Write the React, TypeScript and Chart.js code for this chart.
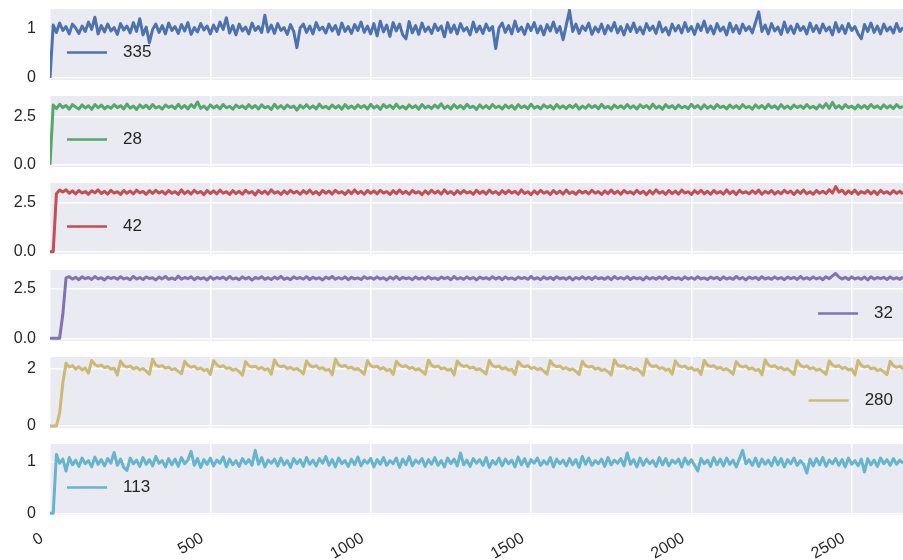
import React, { useEffect, useRef } from 'react';
import { Chart, registerables } from 'chart.js';

Chart.register(...registerables);

// ---------- data ----------
const SAMPLE_STEP = 10; // x distance between stored samples
const X_MAX = 2660;
const X_TICKS = [0, 500, 1000, 1500, 2000, 2500];
const X_TICK_LABELS = ['0', '500', '1000', '1500', '2000', '2500'];

const SERIES_NAMES = ['335', '28', '42', '32', '280', '113'];

const S335 = [
  0, 1.08, 0.93, 1.12, 0.97, 1.05, 0.9, 1.1, 1.02, 0.91,
  1.06, 0.95, 1.14, 0.99, 1.24, 0.9, 1.07, 0.94, 1.1, 0.96,
  1.03, 0.89, 1.11, 0.98, 1.06, 0.92, 1.13, 0.95, 1.21, 0.88,
  1.04, 0.72, 0.99, 1.1, 0.93, 1.07, 0.9, 1.12, 0.97, 1.05,
  0.91, 1.09, 0.96, 1.13, 0.89, 1.03, 0.94, 1.11, 0.98, 1.06,
  0.9, 1.08, 0.95, 1.14, 0.99, 1.23, 0.92, 1.07, 0.88, 1.1,
  0.96, 1.04, 0.9, 1.12, 0.97, 1.05, 0.93, 1.28, 0.94, 1.08,
  0.91, 1.11, 0.97, 1.03, 0.89, 1.09, 0.95, 0.62, 1.02, 1.1,
  0.93, 1.06, 0.9, 1.13, 0.98, 1.04, 0.92, 1.1, 0.96, 1.07,
  0.89, 1.12, 0.95, 1.05, 0.91, 1.09, 0.97, 1.14, 0.93, 1.06,
  0.9, 1.11, 0.86, 1.16, 0.94, 1.08, 0.85, 1.13, 0.96, 1.1,
  0.88, 0.8, 1.15, 0.92, 1.07, 0.89, 1.12, 0.95, 1.04, 0.91,
  1.1, 0.97, 1.06, 0.84, 1.13, 0.93, 1.08, 0.9, 1.11, 0.96,
  1.03, 0.88, 1.14, 0.94, 1.06, 0.91, 1.1, 0.97, 1.05, 0.6,
  1.02, 1.12, 0.93, 1.07, 0.9, 1.16, 0.95, 1.04, 0.89, 1.1,
  0.97, 1.13, 0.92, 1.06, 0.88, 1.09, 0.96, 1.14, 0.93, 1.05,
  0.78, 1.08, 1.38, 0.95, 1.1, 0.91, 1.06, 0.97, 1.12, 0.89,
  1.04, 0.94, 1.1, 0.9, 1.07, 0.96, 1.13, 0.92, 1.05, 0.88,
  1.09, 0.95, 1.12, 0.93, 1.04, 0.9, 1.11, 0.97, 1.06, 0.91,
  1.14, 0.94, 1.03, 0.88, 1.1, 0.96, 1.07, 0.92, 1.13, 0.95,
  1.05, 0.89, 1.1, 0.97, 1.16, 0.93, 1.06, 0.9, 1.11, 0.96,
  1.04, 0.88, 1.12, 0.94, 1.07, 0.91, 1.1, 0.97, 1.05, 0.92,
  1.13, 1.35, 0.95, 1.08, 0.9, 1.11, 0.96, 1.04, 0.89, 1.14,
  0.93, 1.06, 0.91, 1.1, 0.97, 1.05, 0.9, 1.12, 0.95, 1.07,
  0.92, 1.1, 0.96, 1.04, 0.88, 1.13, 0.94, 1.07, 0.91, 1.11,
  0.97, 1.05, 0.9, 0.8, 1.09, 0.95, 1.12, 0.93, 1.06, 0.9,
  1.1, 0.96, 1.04, 0.92, 1.11, 0.95, 1.03,
];

const S28 = [
  0, 3.1, 2.92, 3.14, 2.97, 3.08, 2.89, 3.12, 3.0, 2.9,
  3.11, 2.95, 3.06, 2.88, 3.13, 2.96, 3.1, 2.91, 3.04, 2.93,
  3.12, 2.97, 3.07, 2.9, 3.15, 2.94, 3.05, 2.88, 3.11, 2.96,
  3.09, 2.91, 3.13, 2.95, 3.03, 2.89, 3.1, 2.98, 3.06, 2.92,
  3.14, 2.94, 3.08, 2.9, 3.12, 2.97, 3.26, 2.93, 3.05, 2.88,
  3.11, 2.95, 3.07, 2.91, 3.13, 2.96, 3.04, 2.89, 3.1, 2.97,
  3.06, 2.92, 3.12, 2.95, 3.08, 2.9, 3.11, 2.96, 3.03, 2.87,
  3.14, 2.94, 3.07, 2.91, 3.1, 2.97, 3.05, 2.84, 3.09, 2.95,
  3.12, 2.93, 3.06, 2.9, 3.15, 2.96, 3.04, 2.91, 3.1, 2.95,
  3.07, 2.89, 3.13, 2.94, 3.05, 2.92, 3.11, 2.97, 3.08, 2.9,
  3.14, 2.95, 3.06, 2.88, 3.12, 2.97, 3.09, 2.92, 3.15, 2.94,
  3.04, 2.9, 3.11, 2.96, 3.07, 2.89, 3.13, 2.95, 3.05, 2.92,
  3.1, 2.96, 3.17, 2.93, 3.06, 2.9, 3.12, 2.95, 3.08, 2.91,
  3.14, 2.97, 3.04, 2.88, 3.11, 2.94, 3.07, 2.92, 3.13, 2.96,
  3.05, 2.9, 3.1, 2.95, 3.08, 2.89, 3.12, 2.96, 3.06, 2.92,
  3.15, 2.94, 3.04, 2.91, 3.11, 2.97, 3.07, 2.9, 3.13, 2.95,
  3.06, 2.92, 3.09, 2.96, 3.12, 2.89, 3.05, 2.94, 3.11, 2.97,
  3.08, 2.91, 3.14, 2.95, 3.04, 2.9, 3.1, 2.96, 3.07, 2.93,
  3.13, 2.95, 3.06, 2.9, 3.11, 2.97, 3.08, 2.92, 3.15, 2.94,
  3.05, 2.89, 3.12, 2.96, 3.07, 2.91, 3.1, 2.95, 3.04, 2.92,
  3.14, 2.96, 3.08, 2.9, 3.11, 2.94, 3.06, 2.91, 3.13, 2.97,
  3.05, 2.9, 3.1, 2.95, 3.07, 2.92, 3.12, 2.96, 3.04, 2.89,
  3.11, 2.95, 3.08, 2.92, 3.14, 2.96, 3.06, 2.9, 3.12, 2.94,
  3.05, 2.91, 3.1, 2.97, 3.07, 2.93, 3.13, 2.95, 3.04, 2.9,
  3.11, 2.96, 3.18, 2.93, 3.24, 2.95, 3.07, 2.91, 3.12, 2.97,
  3.05, 2.9, 3.1, 2.94, 3.08, 2.92, 3.13, 2.96, 3.06, 2.91,
  3.11, 2.95, 3.07, 2.92, 3.12, 2.96, 3.04,
];

const S42 = [
  0, 0, 2.94, 3.12, 3.02, 3.14, 2.96, 3.08, 2.93, 3.1,
  2.97, 3.05, 2.91, 3.09, 2.98, 3.13, 2.95, 3.06, 2.92, 3.11,
  2.97, 3.04, 2.9, 3.1, 2.96, 3.07, 2.93, 3.12, 2.98, 3.05,
  2.91, 3.09, 2.95, 3.11, 2.97, 3.06, 2.92, 3.1, 2.96, 3.04,
  2.9, 3.13, 2.94, 3.07, 2.92, 3.11, 2.97, 3.05, 2.89, 3.1,
  2.95, 3.08, 2.93, 3.12, 2.96, 3.04, 2.9, 3.09, 2.94, 3.06,
  2.91, 3.11, 2.97, 3.05, 2.88, 3.1, 2.95, 3.07, 2.92, 3.13,
  2.96, 3.04, 2.9, 3.08, 2.94, 3.11, 2.97, 3.06, 2.91, 3.09,
  2.95, 3.12, 2.93, 3.05, 2.89, 3.1, 2.96, 3.07, 2.92, 3.11,
  2.97, 3.04, 2.9, 3.09, 2.94, 3.13, 2.95, 3.06, 2.91, 3.1,
  2.96, 3.08, 2.93, 3.11, 2.97, 3.05, 2.9, 3.09, 2.94, 3.12,
  2.95, 3.06, 2.91, 3.1, 2.97, 3.04, 2.89, 3.08, 2.93, 3.11,
  2.96, 3.07, 2.92, 3.13, 2.95, 3.05, 2.9, 3.09, 2.94, 3.1,
  2.97, 3.04, 2.91, 3.11, 2.95, 3.07, 2.92, 3.12, 2.96, 3.05,
  2.9, 3.09, 2.94, 3.1, 2.97, 3.06, 2.91, 3.13, 2.95, 3.04,
  2.89, 3.08, 2.93, 3.11, 2.96, 3.05, 2.9, 3.1, 2.94, 3.07,
  2.92, 3.12, 2.95, 3.04, 2.91, 3.09, 2.97, 3.06, 2.93, 3.11,
  2.96, 3.05, 2.9, 3.08, 2.94, 3.12, 2.95, 3.07, 2.91, 3.1,
  2.97, 3.04, 2.92, 3.11, 2.95, 3.06, 2.89, 3.09, 2.93, 3.13,
  2.96, 3.05, 2.91, 3.1, 2.94, 3.07, 2.92, 3.12, 2.97, 3.04,
  2.9, 3.09, 2.95, 3.11, 2.93, 3.06, 2.91, 3.1, 2.96, 3.05,
  2.92, 3.13, 2.94, 3.07, 2.9, 3.11, 2.97, 3.04, 2.93, 3.09,
  2.95, 3.12, 2.91, 3.06, 2.96, 3.1, 2.92, 3.05, 2.94, 3.11,
  2.97, 3.07, 2.9, 3.09, 2.95, 3.12, 2.93, 3.04, 2.91, 3.1,
  2.96, 3.06, 2.94, 3.14, 2.97, 3.3, 3.02, 3.11, 2.92, 3.08,
  2.95, 3.12, 2.91, 3.05, 2.96, 3.1, 2.93, 3.07, 2.9, 3.11,
  2.96, 3.04, 2.92, 3.09, 2.95, 3.06, 2.93,
];

const S32 = [
  0, 0, 0, 0, 1.2, 3.02, 3.08, 2.96, 3.05, 2.93,
  3.07, 2.98, 3.04, 2.94, 3.09, 2.97, 3.03, 2.92, 3.06, 2.99,
  3.05, 2.95, 3.08, 2.97, 3.02, 2.93, 3.1, 2.96, 3.04, 2.94,
  3.07, 2.99, 3.03, 2.92, 3.06, 2.97, 3.09, 2.95, 3.02, 2.94,
  3.11, 2.96, 3.04, 2.98, 3.07, 2.93, 3.05, 2.97, 3.03, 2.92,
  3.08, 2.95, 3.04, 2.98, 3.06, 2.94, 3.09, 2.96, 3.02, 2.93,
  3.07, 2.97, 3.05, 2.91, 3.04, 2.98, 3.08, 2.95, 3.03, 2.94,
  3.06, 2.97, 3.1, 2.95, 3.02, 2.93, 3.07, 2.98, 3.04, 2.96,
  3.08, 2.94, 3.05, 2.97, 3.03, 2.92, 3.06, 2.98, 3.09, 2.95,
  3.04, 2.96, 3.07, 2.93, 3.05, 2.97, 3.02, 2.94, 3.08, 2.98,
  3.04, 2.95, 3.07, 2.97, 3.03, 2.92, 3.06, 2.96, 3.09, 2.94,
  3.05, 2.98, 3.03, 2.93, 3.07, 2.96, 3.04, 2.95, 3.08, 2.97,
  3.02, 2.94, 3.06, 2.98, 3.05, 2.93, 3.09, 2.96, 3.03, 2.95,
  3.07, 2.97, 3.04, 2.92, 3.06, 2.98, 3.03, 2.95, 3.08, 2.96,
  3.05, 2.93, 3.07, 2.97, 3.02, 2.94, 3.06, 2.98, 3.04, 2.95,
  3.09, 2.96, 3.03, 2.93, 3.07, 2.97, 3.05, 2.94, 3.08, 2.98,
  3.03, 2.95, 3.06, 2.92, 3.04, 2.97, 3.08, 2.96, 3.05, 2.94,
  3.07, 2.98, 3.03, 2.95, 3.06, 2.93, 3.09, 2.97, 3.04, 2.96,
  3.08, 2.94, 3.05, 2.98, 3.03, 2.92, 3.07, 2.96, 3.04, 2.95,
  3.06, 2.97, 3.09, 2.94, 3.05, 2.98, 3.03, 2.93, 3.07, 2.96,
  3.04, 2.95, 3.08, 2.97, 3.02, 2.94, 3.06, 2.98, 3.05, 2.93,
  3.07, 2.96, 3.03, 2.95, 3.09, 2.97, 3.04, 2.92, 3.06, 2.98,
  3.05, 2.94, 3.08, 2.96, 3.03, 2.95, 3.07, 2.97, 3.04, 2.93,
  3.06, 2.98, 3.05, 2.94, 3.09, 2.96, 3.03, 2.95, 3.07, 2.97,
  3.04, 2.93, 3.08, 2.98, 3.12, 3.24, 3.06, 2.96, 3.05, 2.94,
  3.07, 2.97, 3.03, 2.95, 3.06, 2.92, 3.08, 2.96, 3.04, 2.98,
  3.05, 2.94, 3.07, 2.96, 3.03, 2.95, 3.06,
];

const S280 = [
  0, 0, 0, 0.45, 1.5, 2.18, 2.05, 2.1, 1.98, 2.06,
  1.95, 2.02, 1.84, 2.28, 2.14, 2.08, 2.12, 2.03, 2.07, 1.98,
  2.01, 1.78, 2.26, 2.1, 2.05, 2.09, 1.99, 2.04, 1.95, 2.0,
  1.91, 1.8, 2.32, 2.12, 2.07, 2.1, 2.01, 2.05, 1.96, 1.99,
  1.9, 1.82, 2.25, 2.11, 2.04, 2.08, 1.98, 2.02, 1.93, 1.97,
  1.79, 2.27, 2.13, 2.06, 2.1, 2.0, 2.03, 1.94, 1.98, 1.89,
  1.77, 2.24, 2.1, 2.05, 2.08, 1.99, 2.04, 1.95, 1.99, 1.8,
  2.3, 2.12, 2.06, 2.09, 2.0, 2.04, 1.96, 2.0, 1.92, 1.81,
  2.26, 2.11, 2.05, 2.1, 1.99, 2.03, 1.94, 1.97, 1.78, 2.33,
  2.13, 2.07, 2.11, 2.01, 2.05, 1.96, 2.0, 1.91, 1.8, 2.27,
  2.1, 2.05, 2.08, 1.98, 2.03, 1.93, 1.97, 1.79, 2.25, 2.12,
  2.06, 2.1, 2.0, 2.04, 1.95, 1.99, 1.9, 1.8, 2.29, 2.11,
  2.05, 2.09, 1.99, 2.02, 1.94, 1.98, 1.78, 2.26, 2.13, 2.07,
  2.1, 2.01, 2.05, 1.95, 1.99, 1.9, 1.81, 2.28, 2.1, 2.05,
  2.09, 1.98, 2.03, 1.94, 1.97, 1.79, 2.24, 2.11, 2.06, 2.1,
  2.0, 2.04, 1.96, 2.0, 1.91, 1.8, 2.27, 2.12, 2.06, 2.09,
  1.99, 2.03, 1.95, 1.98, 1.9, 1.79, 2.25, 2.1, 2.05, 2.08,
  1.98, 2.02, 1.93, 1.97, 1.89, 1.78, 2.3, 2.12, 2.07, 2.1,
  2.0, 2.04, 1.95, 1.99, 1.9, 1.77, 2.32, 2.13, 2.06, 2.1,
  2.0, 2.03, 1.94, 1.98, 1.8, 2.26, 2.11, 2.05, 2.09, 1.99,
  2.03, 1.94, 1.97, 1.79, 2.28, 2.12, 2.07, 2.1, 2.0, 2.04,
  1.95, 1.99, 1.91, 1.8, 2.24, 2.1, 2.05, 2.09, 1.98, 2.02,
  1.93, 1.97, 1.78, 2.3, 2.12, 2.06, 2.1, 2.0, 2.04, 1.95,
  1.99, 1.9, 1.79, 2.27, 2.11, 2.05, 2.09, 1.99, 2.03, 1.94,
  1.98, 1.89, 1.8, 2.26, 2.12, 2.06, 2.1, 2.0, 2.04, 1.95,
  1.98, 1.78, 2.28, 2.11, 2.05, 2.09, 1.99, 2.02, 1.93, 1.97,
  1.88, 1.79, 2.25, 2.1, 2.04, 2.08, 1.99,
];

const S113 = [
  0, 0, 1.14, 0.97, 1.05, 0.82, 1.08, 0.94, 1.03, 0.91,
  1.07, 0.96, 1.02, 0.9, 1.09, 0.95, 1.04, 0.92, 1.06, 0.97,
  1.18, 0.93, 1.05, 0.89, 0.83, 1.07, 0.96, 1.03, 0.91, 1.08,
  0.95, 1.04, 0.92, 1.1, 0.97, 1.02, 0.9, 1.06, 0.94, 1.05,
  0.91, 1.08, 0.96, 1.03, 1.2, 0.93, 1.06, 0.89, 1.04, 0.95,
  1.07, 0.92, 1.03, 0.97, 1.09, 0.9, 1.05, 0.94, 1.02, 0.91,
  1.06, 0.96, 1.04, 0.93, 1.22, 0.95, 1.08, 0.9, 1.03, 0.97,
  1.05, 0.92, 1.07, 0.94, 1.02, 0.89, 1.06, 0.96, 1.04, 0.91,
  1.08, 0.95, 1.03, 0.92, 1.06, 0.97, 1.1, 0.93, 1.04, 0.9,
  1.07, 0.96, 1.02, 0.91, 1.05, 0.94, 1.09, 0.92, 1.03, 0.97,
  1.06, 0.9, 1.04, 0.95, 1.08, 0.93, 1.02, 0.96, 1.07, 0.89,
  1.05, 0.94, 1.1, 0.92, 1.03, 0.97, 1.06, 0.91, 1.04, 0.95,
  1.08, 0.93, 1.02, 0.9, 1.07, 0.96, 1.05, 0.92, 1.17, 0.94,
  1.03, 0.91, 1.06, 0.97, 1.04, 0.93, 1.08, 0.89, 1.02, 0.95,
  1.07, 0.92, 1.05, 0.96, 1.03, 0.9, 1.09, 0.94, 1.06, 0.91,
  1.04, 0.97, 1.07, 0.93, 1.02, 0.95, 1.08, 0.9, 1.05, 0.96,
  1.03, 0.92, 1.06, 0.94, 1.04, 0.89, 1.1, 0.95, 1.07, 0.93,
  1.02, 0.96, 1.05, 0.91, 1.08, 0.94, 1.03, 0.97, 1.06, 0.92,
  1.17, 0.95, 1.04, 0.9, 1.07, 0.93, 1.05, 0.96, 1.02, 0.91,
  1.08, 0.94, 1.06, 0.92, 1.03, 0.97, 1.05, 0.9, 1.07, 0.95,
  1.04, 0.93, 0.82, 1.06, 0.96, 1.03, 0.91, 1.08, 0.94, 1.05,
  0.92, 1.07, 0.95, 1.03, 0.9, 1.06, 1.22, 0.96, 1.04, 0.93,
  1.07, 0.91, 1.05, 0.95, 1.03, 0.92, 1.08, 0.94, 1.06, 0.9,
  1.04, 0.96, 1.07, 0.93, 1.02, 0.95, 0.78, 1.05, 0.92, 1.06,
  0.94, 1.08, 0.91, 1.03, 0.96, 1.06, 0.93, 1.04, 0.9, 1.07,
  0.95, 1.02, 0.92, 1.05, 0.8, 1.06, 0.94, 1.03, 0.91, 1.07,
  0.96, 1.04, 0.93, 1.06, 0.95, 1.03, 0.97,
];

const SERIES = [S335, S28, S42, S32, S280, S113];

const Y_TICKS = [[0, 1], [0, 2.5], [0, 2.5], [0, 2.5], [0, 2], [0, 1]];
const Y_TICK_LABELS = [['0', '1'], ['0.0', '2.5'], ['0.0', '2.5'], ['0.0', '2.5'], ['0', '2'], ['0', '1']];
const Y_RANGES = [
  [-0.041, 1.408],
  [-0.104, 3.57],
  [-0.116, 3.48],
  [-0.135, 3.415],
  [-0.07, 2.4],
  [-0.033, 1.343],
];

// ---------- styles / layout ----------
const COLORS = ['#4C72B0', '#55A868', '#C44E52', '#8172B2', '#CCB974', '#64B5CD'];
const LEGEND_SIDE = ['left', 'left', 'left', 'right', 'right', 'left'];
const PLOT_TOPS = [9, 96, 183, 270, 357, 444];
const PLOT_H = 71;
const PAD_T = 4;
const PAD_B = 8;
const XLABEL_H = 45;
const W = 903;
const LINE_W = 3;
const FONT_FAMILY = '"Liberation Sans", Arial, Helvetica, sans-serif';
const TEXT_COLOR = '#262626';
const AXES_BG = '#EAEAF2';

function Panel({ idx }: { idx: number }) {
  const ref = useRef<HTMLCanvasElement | null>(null);
  const isLast = idx === SERIES.length - 1;
  const height = PAD_T + PLOT_H + (isLast ? XLABEL_H : PAD_B);

  useEffect(() => {
    if (!ref.current) return;
    const side = LEGEND_SIDE[idx];
    const bgPlugin = {
      id: 'axesBg',
      beforeDraw(chart: any) {
        const { ctx, chartArea: a } = chart;
        ctx.save();
        ctx.fillStyle = AXES_BG;
        ctx.fillRect(a.left, a.top, a.right - a.left, a.bottom - a.top);
        ctx.restore();
      },
    };
    const legendPlugin = {
      id: 'panelLegend',
      afterDatasetsDraw(chart: any) {
        const { ctx, chartArea: a } = chart;
        const ds = chart.data.datasets[0];
        ctx.save();
        ctx.font = `17px ${FONT_FAMILY}`;
        ctx.textBaseline = 'middle';
        ctx.textAlign = 'left';
        const y = a.top + 43.5;
        const tw = ctx.measureText(ds.label).width;
        const lineStart = side === 'left' ? a.left + 17 : a.right - 10 - tw - 16 - 40;
        ctx.strokeStyle = ds.borderColor;
        ctx.lineWidth = 2.5;
        ctx.beginPath();
        ctx.moveTo(lineStart, y);
        ctx.lineTo(lineStart + 40, y);
        ctx.stroke();
        ctx.fillStyle = TEXT_COLOR;
        ctx.fillText(ds.label, lineStart + 56, y);
        ctx.restore();
      },
    };

    const chart = new Chart(ref.current, {
      type: 'line',
      data: {
        datasets: [
          {
            label: SERIES_NAMES[idx],
            data: SERIES[idx].map((v, i) => ({ x: i * SAMPLE_STEP, y: v })),
            borderColor: COLORS[idx],
            backgroundColor: COLORS[idx],
            borderWidth: LINE_W,
            pointRadius: 0,
            tension: 0,
            fill: false,
            borderJoinStyle: 'round',
          },
        ],
      },
      options: {
        responsive: false,
        animation: false,
        events: [],
        layout: { padding: { top: PAD_T, bottom: isLast ? 0 : PAD_B, left: 0, right: 0 } },
        plugins: {
          legend: { display: false },
          tooltip: { enabled: false },
        },
        scales: {
          x: {
            type: 'linear',
            min: 0,
            max: X_MAX,
            grid: { color: '#ffffff', lineWidth: 1.5, drawTicks: false },
            border: { display: false },
            ticks: {
              display: isLast,
              minRotation: 30,
              maxRotation: 30,
              padding: 14,
              labelOffset: -8,
              color: TEXT_COLOR,
              font: { size: 16, family: FONT_FAMILY },
              callback: (_v: any, i: number) => X_TICK_LABELS[i],
            },
            afterBuildTicks: (s: any) => {
              s.ticks = X_TICKS.map((v) => ({ value: v }));
            },
            afterFit: (s: any) => {
              s.height = isLast ? XLABEL_H : 0;
              s.paddingLeft = 0;
              s.paddingRight = 0;
            },
          },
          y: {
            type: 'linear',
            min: Y_RANGES[idx][0],
            max: Y_RANGES[idx][1],
            grid: { color: '#ffffff', lineWidth: 1.5, drawTicks: false },
            border: { display: false },
            ticks: {
              padding: 14,
              color: TEXT_COLOR,
              font: { size: 16, family: FONT_FAMILY },
              callback: (_v: any, i: number) => Y_TICK_LABELS[idx][i],
            },
            afterBuildTicks: (s: any) => {
              s.ticks = Y_TICKS[idx].map((v) => ({ value: v }));
            },
            afterFit: (s: any) => {
              s.width = 50;
              s.paddingTop = 0;
              s.paddingBottom = 0;
            },
          },
        },
      },
      plugins: [bgPlugin, legendPlugin],
    } as any);
    return () => chart.destroy();
  }, [idx]);

  return (
    <canvas
      ref={ref}
      width={W}
      height={height}
      style={{ position: 'absolute', left: 0, top: PLOT_TOPS[idx] - PAD_T, width: W, height }}
    />
  );
}

export default function App() {
  return (
    <div style={{ position: 'fixed', left: 0, top: 0, width: W, height: 560, background: '#ffffff', overflow: 'hidden' }}>
      {SERIES.map((_, i) => (
        <Panel key={i} idx={i} />
      ))}
    </div>
  );
}
